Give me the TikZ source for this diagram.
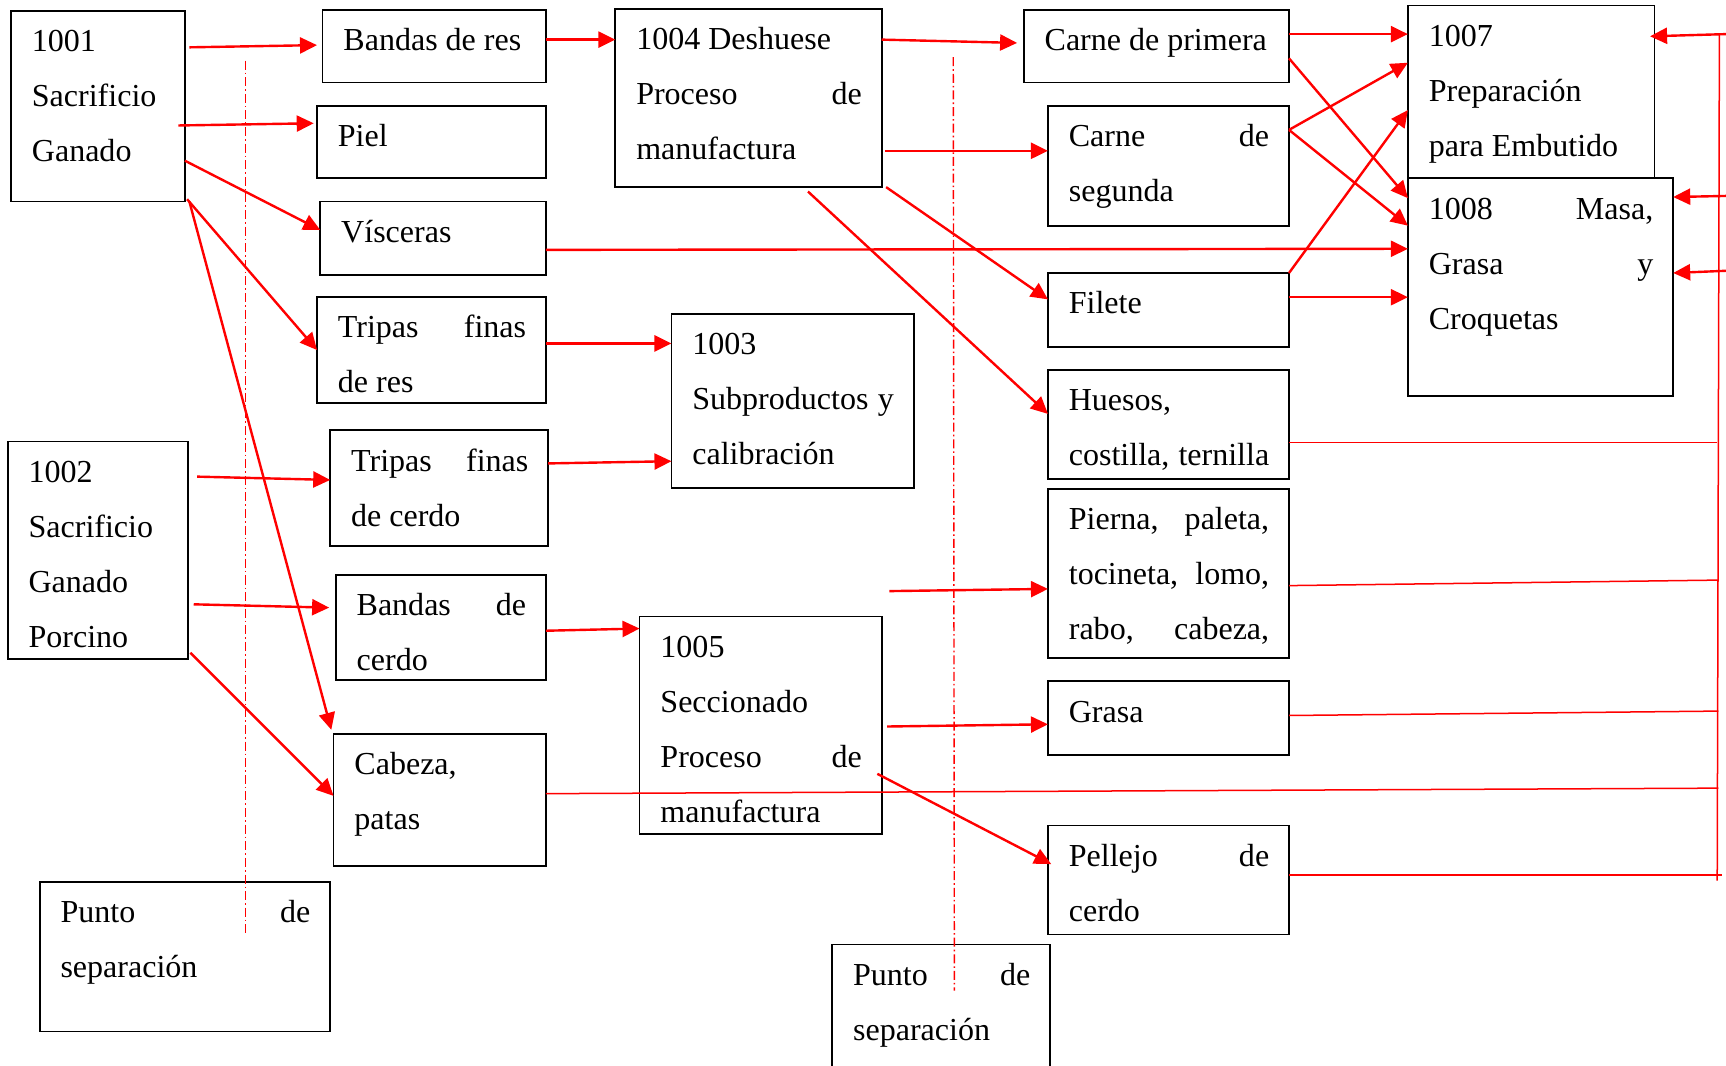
\documentclass[tikz,border=0pt]{standalone}
\usepackage{fontspec}
\setmainfont{Liberation Serif}
\usetikzlibrary{arrows.meta,calc}
\newcommand\rowN[1]{\rule{0pt}{14pt}#1}
\newcommand\rowJ[1]{\rule{0pt}{14pt}\makebox[\linewidth][s]{#1}}
\newcommand\bx[6]{%
  \pgfmathsetmacro\bxw{(#4-#2)*0.55}%
  \pgfmathsetmacro\bxh{(#5-#3)*0.55}%
  \pgfmathsetmacro\bxt{(#4-#2-37)*0.55}%
  \node[box] (#1) at (#2,#3) {\parbox[c][\bxh pt][t]{\bxw pt}{\vspace*{6.35pt}\hspace*{10.45pt}\parbox[t]{\bxt pt}{#6}}};%
}
\begin{document}
\begin{tikzpicture}[x=0.55pt,y=-0.55pt,
  box/.style={draw=black, line width=0.9pt, anchor=north west, inner sep=0pt, outer sep=0pt,
    font=\fontsize{16pt}{27.5pt}\selectfont},
  arr/.style={draw=red, line width=1.2pt, -{Triangle[length=8.5pt,width=8pt]}},
  thin/.style={draw=red, line width=0.75pt},
  sepline/.style={draw=red, line width=0.7pt, dash pattern=on 4.5pt off 1.5pt on 0.8pt off 1.5pt}]
\useasboundingbox (0,0) rectangle (1568,968);

% boxes
\bx{b1001}{10}{10}{168}{183}{\rowN{1001}\\\rowN{Sacrificio}\\\rowN{Ganado}}
\bx{bres}{293}{9}{496}{75}{\rowN{Bandas de res}}
\bx{piel}{288}{96}{496}{162}{\rowN{Piel}}
\bx{visc}{291}{183}{496}{250}{\rowN{Vísceras}}
\bx{tres}{288}{270}{496}{366}{\rowJ{Tripas finas}\\\rowN{de res}}
\bx{b1002}{7}{401}{171}{599}{\rowN{1002}\\\rowN{Sacrificio}\\\rowN{Ganado}\\\rowN{Porcino}}
\bx{tcer}{300}{391}{498}{496}{\rowJ{Tripas finas}\\\rowN{de cerdo}}
\bx{bcer}{305}{522}{496}{618}{\rowJ{Bandas de}\\\rowN{cerdo}}
\bx{cab}{303}{667}{496}{787}{\rowN{Cabeza,}\\\rowN{patas}}
\bx{psep1}{36}{801}{300}{937}{\rowJ{Punto de}\\\rowN{separación}}
\bx{b1004}{559}{8}{801}{170}{\rowN{1004 Deshuese}\\\rowJ{Proceso de}\\\rowN{manufactura}}
\bx{b1003}{610}{285}{830}{443}{\rowN{1003}\\\rowJ{Subproductos y}\\\rowN{calibración}}
\bx{b1005}{581}{560}{801}{758}{\rowN{1005}\\\rowN{Seccionado}\\\rowJ{Proceso de}\\\rowN{manufactura}}
\bx{cpri}{930}{9}{1171}{75}{\rowN{Carne de primera}}
\bx{cseg}{952}{96}{1171}{205}{\rowJ{Carne de}\\\rowN{segunda}}
\bx{fil}{952}{248}{1171}{315}{\rowN{Filete}}
\bx{hue}{952}{336}{1171}{435}{\rowN{Huesos,}\\\rowJ{costilla, ternilla}}
\bx{pie}{952}{444}{1171}{598}{\rowJ{Pierna, paleta,}\\\rowJ{tocineta, lomo,}\\\rowJ{rabo, cabeza,}}
\bx{gra}{952}{619}{1171}{686}{\rowN{Grasa}}
\bx{pel}{952}{750}{1171}{849}{\rowJ{Pellejo de}\\\rowN{cerdo}}
\bx{psep2}{756}{858}{954}{990}{\rowJ{Punto de}\\\rowN{separación}}
\bx{b1007}{1279}{5}{1503}{162}{\rowN{1007}\\\rowN{Preparación}\\\rowN{para Embutido}}
\bx{b1008}{1279}{162}{1520}{360}{\rowJ{1008 Masa,}\\\rowJ{Grasa y}\\\rowN{Croquetas}}

% separation lines
\coordinate (s1a) at (223,55);
\coordinate (s1b) at (223,848);
\coordinate (s2a) at (866,52);
\coordinate (s2b) at (867,900);
\draw[sepline] (s1a) -- (s1b);
\draw[sepline] (s2a) -- (s2b);

% left column arrows
\draw[arr] ($(b1001.east |- 0,43)+(4,0)$) -- ($(bres.west |- 0,41)+(-5,0)$);
\draw[arr] ($(b1001.east |- 0,114)+(-6,0)$) -- ($(piel.west |- 0,112)+(-3,0)$);
\draw[arr] (b1001.east |- 0,146) -- (visc.west |- 0,209);
\draw[arr] ($(b1001.south east)+(2,-2)$) -- (tres.west |- 0,318);
\draw[arr] ($(b1001.south east)+(4,0)$) -- ($(cab.north west)+(-2,-4)$);
\draw[arr] ($(b1002.east |- 0,433)+(8,0)$) -- (tcer.west |- 0,436);
\draw[arr] ($(b1002.east |- 0,549)+(5,0)$) -- ($(bcer.west |- 0,552)+(-6,0)$);
\draw[arr] ($(b1002.east |- 0,593)+(2,0)$) -- (cab.west |- 0,723);

% middle arrows
\draw[arr] (bres.east |- 0,36) -- (b1004.west |- 0,36);
\draw[arr] (tres.east |- 0,312) -- (b1003.west |- 0,312);
\draw[arr] (tcer.east |- 0,421) -- (b1003.west |- 0,419);
\draw[arr] (bcer.east |- 0,573) -- (b1005.west |- 0,571);
\draw[arr] (b1004.east |- 0,36) -- ($(cpri.west |- 0,39)+(-6,0)$);
\draw[arr] ($(b1004.east |- 0,137)+(3,0)$) -- (cseg.west |- 0,137);
\draw[arr] ($(b1004.south east)+(4,0)$) -- (fil.west |- 0,272);
\draw[arr] ($(b1004.south -| 734,0)+(0,4)$) -- (hue.west |- 0,376);
\coordinate (pst) at (808,537);
\draw[arr] (pst) -- (pie.west |- 0,535);
\draw[arr] ($(b1005.east |- 0,660)+(5,0)$) -- (gra.west |- 0,658);
\draw[arr] ($(b1005.east |- 0,703)+(-4,0)$) -- ($(pel.west |- 0,785)+(3,0)$);

% right arrows into 1007 / 1008
\draw[arr] (visc.east |- 0,227) -- (b1008.west |- 0,226);
\draw[arr] (cpri.east |- 0,31) -- (b1007.west |- 0,31);
\draw[arr] (cpri.east |- 0,53) -- (b1008.west |- 0,180);
\draw[arr] (cseg.east |- 0,118) -- (b1007.west |- 0,57);
\draw[arr] (cseg.east |- 0,118) -- (b1008.west |- 0,205);
\draw[arr] (fil.north east) -- (b1007.west |- 0,100);
\draw[arr] (fil.east |- 0,270) -- (b1008.west |- 0,270);

% return bus on the right
\coordinate (bt) at (1562,31);
\coordinate (bb) at (1560,800);
\coordinate (bh) at (1560,402);
\coordinate (bp) at (1561,527);
\coordinate (bg) at (1561,646);
\coordinate (bc) at (1561,716);
\coordinate (bl) at (1564,795);
\coordinate (e7) at (1568,31);
\coordinate (e8a) at (1568,178);
\coordinate (e8b) at (1568,246);
\draw[thin] (bt) -- (bb);
\draw[thin] (hue.east |- 0,402) -- (bh);
\draw[thin] (pie.east |- 0,532) -- (bp);
\draw[thin] (gra.east |- 0,650) -- (bg);
\draw[thin] (cab.east |- 0,721) -- (bc);
\draw[thin] (pel.east |- 0,795) -- (bl);
\draw[arr] (e7) -- ($(b1007.east |- 0,33)+(-4,0)$);
\draw[arr] (e8a) -- (b1008.east |- 0,179);
\draw[arr] (e8b) -- (b1008.east |- 0,248);
\end{tikzpicture}
\end{document}
